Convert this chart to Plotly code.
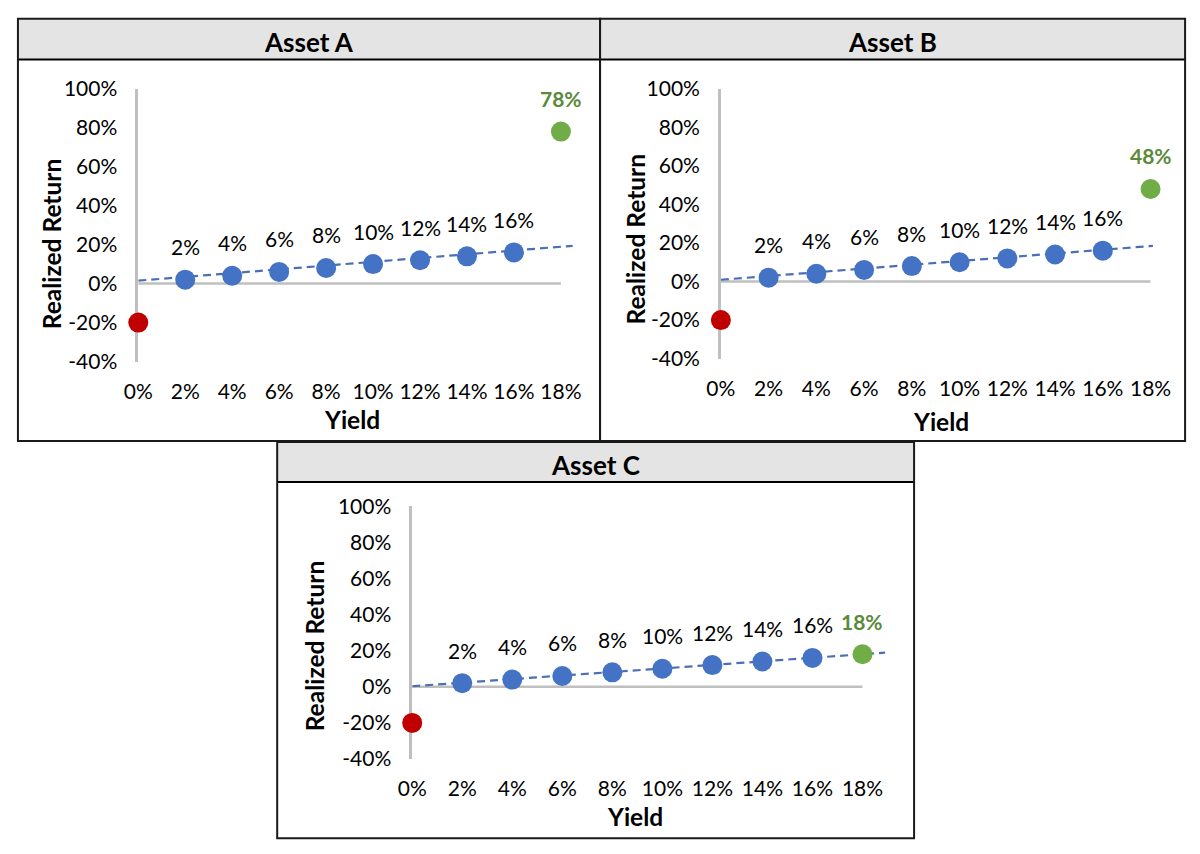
import plotly.graph_objects as go

# ---------------- data ----------------
panel_titles = ["Asset A", "Asset B", "Asset C"]
x_title = "Yield"
y_title = "Realized Return"
yield_ticks = [0, 2, 4, 6, 8, 10, 12, 14, 16, 18]
yield_tick_text = ["0%", "2%", "4%", "6%", "8%", "10%", "12%", "14%", "16%", "18%"]
return_ticks = [-40, -20, 0, 20, 40, 60, 80, 100]
return_tick_text = ["-40%", "-20%", "0%", "20%", "40%", "60%", "80%", "100%"]

blue_x = [2, 4, 6, 8, 10, 12, 14, 16]
blue_y = [2, 4, 6, 8, 10, 12, 14, 16]
red_x = [0]
red_y = [-20]
green_x = [18]
green_y_a = [78]
green_y_b = [48]
green_y_c = [18]

trend_x_a = [0, 18.5]
trend_y_a = [1.5, 19.4]
trend_x_b = [0, 18.1]
trend_y_b = [0.9, 18.5]
trend_x_c = [0, 18.9]
trend_y_c = [0.3, 18.9]

green_values = [green_y_a, green_y_b, green_y_c]
trend_xs = [trend_x_a, trend_x_b, trend_x_c]
trend_ys = [trend_y_a, trend_y_b, trend_y_c]

# ---------------- style / layout ----------------
W, H = 1200, 854
FONT = "Lato"
BLUE = "#4472C4"
TREND = "#4A6FB5"
RED = "#C00000"
GREEN = "#70AD47"
GREEN_TXT = "#5A8A3A"
AXIS_GRAY = "#BFBFBF"

# pixel geometry: x of 0%, px per 1%, x range max, y px of 100%, y px of -40%
geom = [
    dict(x0=126.0, ppu=24.0, xmax=18.6, ytop=77, ybot=358),
    dict(x0=721.5, ppu=24.4, xmax=18.4, ytop=77, ybot=355),
    dict(x0=406.0, ppu=25.57, xmax=19.0, ytop=507, ybot=767.5),
]
boxes = [
    dict(x0=3, x1=598, y0=5, y1=440, band=47),
    dict(x0=598, x1=1196, y0=5, y1=440, band=47),
    dict(x0=268, x1=919, y0=441, y1=849, band=482),
]
# axis-title placements (pixel centres)
title_pos = [
    dict(xt=(344, 417.5), yt=(37.5, 236.5)),
    dict(xt=(946, 419.5), yt=(634, 232)),
    dict(xt=(634, 827), yt=(306.5, 650.5)),
]

def px(x):
    return x / W

def py(y):
    return 1 - y / H

fig = go.Figure()
shapes = []
annotations = []

for i in range(3):
    g = geom[i]
    suffix = "" if i == 0 else str(i + 1)
    xa = "x" + suffix
    ya = "y" + suffix
    xkey = "xaxis" + suffix
    ykey = "yaxis" + suffix
    x_right = g["x0"] + g["xmax"] * g["ppu"]

    fig.add_trace(go.Scatter(
        x=trend_xs[i], y=trend_ys[i], mode="lines", xaxis=xa, yaxis=ya,
        line=dict(color=TREND, width=2.2, dash="8px,5px"), hoverinfo="skip", showlegend=False))
    fig.add_trace(go.Scatter(
        x=blue_x, y=blue_y, mode="markers", xaxis=xa, yaxis=ya, cliponaxis=False,
        marker=dict(color=BLUE, size=20), showlegend=False))
    fig.add_trace(go.Scatter(
        x=red_x, y=red_y, mode="markers", xaxis=xa, yaxis=ya, cliponaxis=False,
        marker=dict(color=RED, size=20), showlegend=False))
    fig.add_trace(go.Scatter(
        x=green_x, y=green_values[i], mode="markers", xaxis=xa, yaxis=ya, cliponaxis=False,
        marker=dict(color=GREEN, size=20), showlegend=False))

    for xv, yv in zip(blue_x, blue_y):
        annotations.append(dict(x=xv, y=yv, xref=xa, yref=ya, text=f"{yv}%", showarrow=False,
                                yshift=33, font=dict(family=FONT, size=21, color="#000000")))
    for xv, yv in zip(green_x, green_values[i]):
        annotations.append(dict(x=xv, y=yv, xref=xa, yref=ya, text=f"<b>{yv}%</b>", showarrow=False,
                                yshift=33, font=dict(family=FONT, size=21, color=GREEN_TXT)))

    shapes.append(dict(type="line", xref=xa, yref=ya, x0=yield_ticks[0], x1=yield_ticks[-1], y0=0, y1=0,
                       line=dict(color=AXIS_GRAY, width=2.5), layer="below"))

    fig.layout[xkey] = dict(
        domain=[px(g["x0"]), px(x_right)], range=[0, g["xmax"]], anchor=ya,
        tickmode="array", tickvals=yield_ticks, ticktext=yield_tick_text,
        showgrid=False, zeroline=False, showline=False, ticks="",
        ticklabelstandoff=15,
        tickfont=dict(family=FONT, size=21, color="#000000"),
        fixedrange=True,
    )
    fig.layout[ykey] = dict(
        domain=[py(g["ybot"]), py(g["ytop"])], range=[-40, 100], anchor=xa,
        tickmode="array", tickvals=return_ticks, ticktext=return_tick_text,
        showgrid=False, zeroline=False, showline=True, linecolor=AXIS_GRAY, linewidth=2.5,
        layer="below traces", ticks="",
        ticklabelstandoff=14,
        tickfont=dict(family=FONT, size=21, color="#000000"),
        fixedrange=True,
    )

    tp = title_pos[i]
    annotations.append(dict(xref="paper", yref="paper", x=px(tp["xt"][0]), y=py(tp["xt"][1]),
                            text=f"<b>{x_title}</b>", showarrow=False, xanchor="center", yanchor="middle",
                            font=dict(family=FONT, size=24.5, color="#000000")))
    annotations.append(dict(xref="paper", yref="paper", x=px(tp["yt"][0]), y=py(tp["yt"][1]),
                            text=f"<b>{y_title}</b>", showarrow=False, xanchor="center", yanchor="middle",
                            textangle=-90, font=dict(family=FONT, size=24.5, color="#000000")))

    b = boxes[i]
    shapes.append(dict(type="rect", xref="paper", yref="paper",
                       x0=px(b["x0"]), x1=px(b["x1"]), y0=py(b["band"]), y1=py(b["y0"]),
                       fillcolor="#E4E4E4", line=dict(width=0), layer="below"))
    shapes.append(dict(type="line", xref="paper", yref="paper",
                       x0=px(b["x0"]), x1=px(b["x1"]), y0=py(b["band"]), y1=py(b["band"]),
                       line=dict(color="#000000", width=2), layer="above"))
    shapes.append(dict(type="rect", xref="paper", yref="paper",
                       x0=px(b["x0"]), x1=px(b["x1"]), y0=py(b["y1"]), y1=py(b["y0"]),
                       line=dict(color="#1A1A1A", width=2), fillcolor="rgba(0,0,0,0)", layer="above"))
    annotations.append(dict(xref="paper", yref="paper", x=px((b["x0"] + b["x1"]) / 2),
                            y=py((b["y0"] + b["band"]) / 2 + 3), text=f"<b>{panel_titles[i]}</b>",
                            showarrow=False, xanchor="center", yanchor="middle",
                            font=dict(family=FONT, size=26, color="#000000")))

fig.update_layout(
    width=W, height=H, margin=dict(l=0, r=0, t=0, b=0),
    paper_bgcolor="#FFFFFF", plot_bgcolor="rgba(0,0,0,0)",
    showlegend=False, shapes=shapes, annotations=annotations,
    font=dict(family=FONT, color="#000000"),
)

fig.write_html("out.html", config={"displayModeBar": False},
               post_script="document.body.style.margin='0';document.body.style.overflow='hidden';")
